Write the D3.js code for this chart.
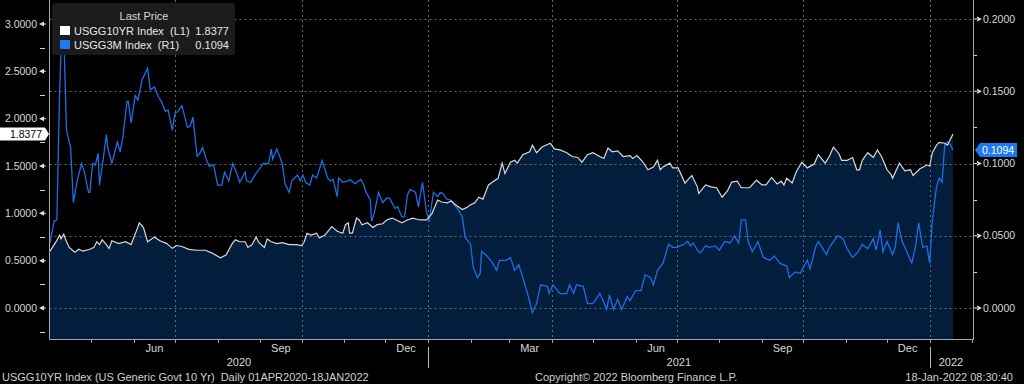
<!DOCTYPE html>
<html>
<head>
<meta charset="utf-8">
<script src="https://cdn.jsdelivr.net/npm/d3@7"></script>
<style>
  body { margin: 0; background: #000; }
  svg { display: block; font-family: "Liberation Sans", Arial, sans-serif; }
  svg text { white-space: pre; }
</style>
</head>
<body>
<script>
// USGG10YR Index, left axis (L1)
const tenYr = [
	["2020-04-01",0.60],["2020-04-05",0.69],["2020-04-08",0.77],["2020-04-09",0.73],["2020-04-11",0.78],
	["2020-04-13",0.70],["2020-04-15",0.64],["2020-04-19",0.59],["2020-04-22",0.62],["2020-04-25",0.60],
	["2020-04-30",0.62],["2020-05-03",0.64],["2020-05-05",0.70],["2020-05-07",0.67],["2020-05-09",0.72],
	["2020-05-12",0.67],["2020-05-14",0.63],["2020-05-16",0.71],["2020-05-21",0.68],["2020-05-26",0.70],
	["2020-05-30",0.67],["2020-06-03",0.82],["2020-06-05",0.90],["2020-06-08",0.85],["2020-06-11",0.70],
	["2020-06-16",0.75],["2020-06-20",0.71],["2020-06-25",0.68],["2020-06-29",0.63],["2020-07-02",0.66],
	["2020-07-06",0.65],["2020-07-11",0.62],["2020-07-17",0.61],["2020-07-23",0.61],["2020-07-28",0.58],
	["2020-08-03",0.53],["2020-08-07",0.56],["2020-08-12",0.69],["2020-08-14",0.72],["2020-08-17",0.70],
	["2020-08-21",0.70],["2020-08-23",0.64],["2020-08-26",0.67],["2020-08-29",0.75],["2020-08-31",0.69],
	["2020-09-04",0.64],["2020-09-06",0.73],["2020-09-09",0.70],["2020-09-13",0.68],["2020-09-17",0.69],
	["2020-09-22",0.67],["2020-09-27",0.67],["2020-10-01",0.66],["2020-10-03",0.70],["2020-10-05",0.79],
	["2020-10-08",0.77],["2020-10-12",0.79],["2020-10-14",0.74],["2020-10-18",0.77],["2020-10-23",0.86],
	["2020-10-27",0.81],["2020-10-31",0.79],["2020-11-02",0.88],["2020-11-04",0.90],["2020-11-05",0.79],
	["2020-11-07",0.79],["2020-11-10",0.95],["2020-11-12",0.93],["2020-11-14",0.88],["2020-11-18",0.90],
	["2020-11-22",0.85],["2020-11-25",0.88],["2020-11-29",0.89],["2020-12-02",0.93],["2020-12-06",0.95],
	["2020-12-09",0.93],["2020-12-13",0.90],["2020-12-17",0.93],["2020-12-21",0.95],["2020-12-26",0.93],
	["2020-12-31",0.93],["2021-01-04",1.00],["2021-01-08",1.14],["2021-01-11",1.12],["2021-01-15",1.11],
	["2021-01-18",1.13],["2021-01-21",1.09],["2021-01-26",1.04],["2021-01-29",1.06],["2021-02-01",1.09],
	["2021-02-04",1.11],["2021-02-07",1.17],["2021-02-10",1.15],["2021-02-14",1.30],["2021-02-17",1.33],
	["2021-02-21",1.37],["2021-02-24",1.53],["2021-02-26",1.42],["2021-03-02",1.54],["2021-03-05",1.56],
	["2021-03-07",1.53],["2021-03-11",1.62],["2021-03-16",1.65],["2021-03-18",1.72],["2021-03-21",1.64],
	["2021-03-25",1.70],["2021-03-31",1.74],["2021-04-03",1.68],["2021-04-07",1.67],["2021-04-12",1.64],
	["2021-04-16",1.60],["2021-04-20",1.59],["2021-04-23",1.54],["2021-04-27",1.62],["2021-05-01",1.64],
	["2021-05-06",1.60],["2021-05-09",1.58],["2021-05-12",1.69],["2021-05-15",1.65],["2021-05-19",1.66],
	["2021-05-23",1.60],["2021-05-28",1.61],["2021-05-30",1.58],["2021-06-02",1.61],["2021-06-06",1.55],
	["2021-06-10",1.46],["2021-06-14",1.49],["2021-06-17",1.56],["2021-06-19",1.46],["2021-06-21",1.49],
	["2021-06-26",1.53],["2021-06-28",1.48],["2021-07-02",1.48],["2021-07-07",1.32],["2021-07-10",1.37],
	["2021-07-12",1.40],["2021-07-16",1.28],["2021-07-17",1.21],["2021-07-22",1.30],["2021-07-26",1.28],
	["2021-07-30",1.27],["2021-08-03",1.17],["2021-08-07",1.24],["2021-08-10",1.33],["2021-08-14",1.34],
	["2021-08-17",1.27],["2021-08-23",1.27],["2021-08-28",1.35],["2021-09-01",1.30],["2021-09-04",1.30],
	["2021-09-08",1.38],["2021-09-12",1.31],["2021-09-15",1.34],["2021-09-17",1.30],["2021-09-19",1.37],
	["2021-09-23",1.32],["2021-09-26",1.44],["2021-09-30",1.54],["2021-10-04",1.48],["2021-10-09",1.52],
	["2021-10-12",1.62],["2021-10-17",1.53],["2021-10-20",1.60],["2021-10-23",1.70],["2021-10-27",1.63],
	["2021-10-29",1.56],["2021-11-02",1.56],["2021-11-06",1.59],["2021-11-09",1.46],["2021-11-11",1.46],
	["2021-11-13",1.56],["2021-11-17",1.64],["2021-11-21",1.59],["2021-11-24",1.67],["2021-11-27",1.60],
	["2021-12-01",1.46],["2021-12-04",1.41],["2021-12-05",1.37],["2021-12-10",1.53],["2021-12-14",1.45],
	["2021-12-18",1.46],["2021-12-20",1.40],["2021-12-25",1.47],["2021-12-30",1.51],["2022-01-01",1.50],
	["2022-01-03",1.64],["2022-01-06",1.72],["2022-01-08",1.75],["2022-01-12",1.74],["2022-01-14",1.72],
	["2022-01-16",1.78],["2022-01-18",1.8377]
];

// USGG3M Index, right axis (R1)
const threeMo = [
	["2020-04-01",0.045],["2020-04-04",0.060],["2020-04-06",0.061],["2020-04-08",0.150],["2020-04-10",0.205],
	["2020-04-11",0.190],["2020-04-13",0.123],["2020-04-16",0.111],["2020-04-18",0.073],["2020-04-21",0.089],
	["2020-04-24",0.100],["2020-04-26",0.094],["2020-04-29",0.080],["2020-04-30",0.080],["2020-05-02",0.100],
	["2020-05-04",0.099],["2020-05-06",0.107],["2020-05-07",0.085],["2020-05-10",0.105],["2020-05-12",0.120],
	["2020-05-13",0.111],["2020-05-16",0.100],["2020-05-20",0.115],["2020-05-22",0.108],["2020-05-24",0.118],
	["2020-05-27",0.143],["2020-05-28",0.143],["2020-05-30",0.128],["2020-06-02",0.147],["2020-06-04",0.144],
	["2020-06-07",0.158],["2020-06-11",0.166],["2020-06-13",0.151],["2020-06-16",0.153],["2020-06-19",0.146],
	["2020-06-21",0.143],["2020-06-24",0.136],["2020-06-26",0.137],["2020-06-29",0.123],["2020-07-01",0.135],
	["2020-07-03",0.136],["2020-07-06",0.140],["2020-07-10",0.125],["2020-07-12",0.126],["2020-07-14",0.132],
	["2020-07-17",0.105],["2020-07-19",0.107],["2020-07-21",0.111],["2020-07-24",0.102],["2020-07-26",0.098],
	["2020-07-29",0.099],["2020-08-01",0.085],["2020-08-04",0.085],["2020-08-06",0.094],["2020-08-09",0.088],
	["2020-08-12",0.100],["2020-08-15",0.093],["2020-08-17",0.087],["2020-08-21",0.094],["2020-08-22",0.088],
	["2020-08-25",0.087],["2020-08-28",0.092],["2020-09-01",0.097],["2020-09-03",0.100],["2020-09-07",0.100],
	["2020-09-09",0.110],["2020-09-10",0.103],["2020-09-13",0.110],["2020-09-17",0.100],["2020-09-19",0.086],
	["2020-09-22",0.080],["2020-09-24",0.088],["2020-09-28",0.092],["2020-09-30",0.088],["2020-10-02",0.092],
	["2020-10-04",0.087],["2020-10-07",0.085],["2020-10-09",0.092],["2020-10-12",0.090],["2020-10-14",0.096],
	["2020-10-16",0.102],["2020-10-20",0.090],["2020-10-22",0.088],["2020-10-24",0.089],["2020-10-27",0.077],
	["2020-10-28",0.090],["2020-10-31",0.087],["2020-11-04",0.088],["2020-11-05",0.089],["2020-11-09",0.086],
	["2020-11-13",0.089],["2020-11-15",0.086],["2020-11-17",0.080],["2020-11-20",0.075],["2020-11-21",0.060],
	["2020-11-23",0.066],["2020-11-26",0.080],["2020-11-29",0.073],["2020-12-02",0.076],["2020-12-04",0.076],
	["2020-12-08",0.069],["2020-12-10",0.070],["2020-12-13",0.063],["2020-12-15",0.063],["2020-12-17",0.078],
	["2020-12-19",0.082],["2020-12-23",0.080],["2020-12-25",0.070],["2020-12-28",0.087],["2020-12-31",0.066],
	["2021-01-02",0.061],["2021-01-05",0.080],["2021-01-08",0.077],["2021-01-10",0.080],["2021-01-12",0.079],
	["2021-01-15",0.075],["2021-01-17",0.075],["2021-01-19",0.073],["2021-01-23",0.068],["2021-01-26",0.063],
	["2021-01-28",0.049],["2021-02-01",0.044],["2021-02-03",0.028],["2021-02-06",0.021],["2021-02-08",0.024],
	["2021-02-09",0.039],["2021-02-13",0.036],["2021-02-17",0.031],["2021-02-20",0.026],["2021-02-22",0.033],
	["2021-02-27",0.033],["2021-03-02",0.035],["2021-03-05",0.026],["2021-03-08",0.030],["2021-03-11",0.021],
	["2021-03-15",0.008],["2021-03-18",-0.003],["2021-03-21",0.003],["2021-03-24",0.016],["2021-03-29",0.015],
	["2021-03-30",0.010],["2021-04-02",0.016],["2021-04-07",0.010],["2021-04-12",0.010],["2021-04-14",0.016],
	["2021-04-17",0.010],["2021-04-19",0.016],["2021-04-24",0.015],["2021-04-27",0.003],["2021-05-01",0.003],
	["2021-05-06",0.010],["2021-05-08",0.006],["2021-05-11",-0.001],["2021-05-13",0.009],["2021-05-16",-0.001],
	["2021-05-19",0.006],["2021-05-22",-0.001],["2021-05-26",0.008],["2021-05-28",0.005],["2021-06-01",0.012],
	["2021-06-05",0.012],["2021-06-08",0.023],["2021-06-12",0.021],["2021-06-14",0.016],["2021-06-17",0.026],
	["2021-06-21",0.031],["2021-06-25",0.044],["2021-06-28",0.042],["2021-07-01",0.042],["2021-07-06",0.044],
	["2021-07-09",0.046],["2021-07-11",0.043],["2021-07-13",0.045],["2021-07-16",0.040],["2021-07-18",0.038],
	["2021-07-22",0.043],["2021-07-25",0.042],["2021-07-29",0.043],["2021-08-01",0.040],["2021-08-05",0.046],
	["2021-08-09",0.045],["2021-08-12",0.050],["2021-08-15",0.045],["2021-08-17",0.061],["2021-08-20",0.061],
	["2021-08-22",0.046],["2021-08-25",0.039],["2021-08-29",0.046],["2021-09-02",0.035],["2021-09-07",0.033],
	["2021-09-10",0.036],["2021-09-14",0.031],["2021-09-19",0.029],["2021-09-21",0.021],["2021-09-25",0.025],
	["2021-09-29",0.024],["2021-10-01",0.028],["2021-10-04",0.033],["2021-10-06",0.027],["2021-10-10",0.042],
	["2021-10-12",0.046],["2021-10-18",0.037],["2021-10-20",0.042],["2021-10-26",0.050],["2021-10-30",0.048],
	["2021-11-02",0.041],["2021-11-06",0.035],["2021-11-10",0.039],["2021-11-13",0.044],["2021-11-17",0.041],
	["2021-11-21",0.048],["2021-11-23",0.040],["2021-11-26",0.054],["2021-11-28",0.039],["2021-12-01",0.046],
	["2021-12-05",0.037],["2021-12-07",0.042],["2021-12-09",0.059],["2021-12-12",0.046],["2021-12-14",0.042],
	["2021-12-19",0.031],["2021-12-22",0.044],["2021-12-24",0.059],["2021-12-27",0.042],["2021-12-30",0.043],
	["2022-01-01",0.031],["2022-01-03",0.061],["2022-01-06",0.084],["2022-01-08",0.090],["2022-01-10",0.087],
	["2022-01-12",0.113],["2022-01-14",0.115],["2022-01-16",0.113],["2022-01-18",0.1094]
];

const leftTicks = [0, 0.5, 1, 1.5, 2, 2.5, 3];
const rightTicks = [0, 0.05, 0.1, 0.15, 0.2];
const lastTenYr = 1.8377;
const lastThreeMo = 0.1094;
const legendRows = [
	{ name: "USGG10YR Index  (L1)", value: "1.8377", color: "#ffffff" },
	{ name: "USGG3M Index  (R1)", value: "0.1094", color: "#1c7bf2" }
];
const footerLeft = "USGG10YR Index (US Generic Govt 10 Yr)  Daily 01APR2020-18JAN2022";
const footerMid = "Copyright\u00a9 2022 Bloomberg Finance L.P.";
const footerRight = "18-Jan-2022 08:30:40";

const parse = d3.utcParse("%Y-%m-%d");
const ten = tenYr.map(d => ({ date: parse(d[0]), v: d[1] }));
const three = threeMo.map(d => ({ date: parse(d[0]), v: d[1] }));

const W = 1024, H = 384;
const pL = 49.5, pR = 973.5, pT = 0, pB = 339.5;
const startDate = parse("2020-04-01"), endDate = parse("2022-01-18"), axisEnd = parse("2022-02-01");

const x = d3.scaleUtc().domain([startDate, endDate]).range([50, 953]);
const yL = d3.scaleLinear().domain([0, 3]).range([308, 24]);
const yR = d3.scaleLinear().domain([0, 0.2]).range([308, 19]);

const svg = d3.select("body").append("svg")
	.attr("width", W).attr("height", H);
svg.append("rect").attr("width", W).attr("height", H).attr("fill", "#000");

// area under the 10 yr line
svg.append("path")
	.datum(ten)
	.attr("fill", "#031d3d")
	.attr("d", d3.area().x(d => x(d.date)).y0(pB).y1(d => yL(d.v)));

// gridlines
const grid = svg.append("g")
	.attr("stroke", "#6a6a6a")
	.attr("stroke-width", 1)
	.attr("stroke-dasharray", "2,3");
grid.selectAll("line.h")
	.data(rightTicks)
	.enter().append("line")
	.attr("x1", pL).attr("x2", pR)
	.attr("y1", d => Math.round(yR(d)) + 0.5)
	.attr("y2", d => Math.round(yR(d)) + 0.5);

const months = d3.utcMonth.range(d3.utcDay.offset(startDate, 1), d3.utcDay.offset(axisEnd, 1));
grid.selectAll("line.v")
	.data(months.filter(m => m.getUTCMonth() % 3 === 0 && m < endDate))
	.enter().append("line")
	.attr("x1", d => Math.round(x(d)) + 0.5).attr("x2", d => Math.round(x(d)) + 0.5)
	.attr("y1", pT).attr("y2", pB);

// lines
svg.append("path")
	.datum(three)
	.attr("fill", "none")
	.attr("stroke", "#1c6ee6")
	.attr("stroke-width", 1.3)
	.attr("d", d3.line().x(d => x(d.date)).y(d => yR(d.v)));

svg.append("path")
	.datum(ten)
	.attr("fill", "none")
	.attr("stroke", "#d8d8d8")
	.attr("stroke-width", 1.2)
	.attr("d", d3.line().x(d => x(d.date)).y(d => yL(d.v)));

// axis frame
const axisColor = "#a8a8a8";
svg.append("path")
	.attr("fill", "none").attr("stroke", axisColor)
	.attr("d", `M${pL},${pT}V${pB}H${pR}V${pT}`);

// left axis
const lt = svg.append("g");
lt.selectAll("path.maj")
	.data(leftTicks)
	.enter().append("path")
	.attr("fill", "#e0e0e0")
	.attr("d", d => { let y = yL(d); return `M39,${y}L44,${y - 2.5}V${y + 2.5}Z M44,${y - 0.5}h2v1h-2Z`; });
lt.selectAll("line.min")
	.data(d3.range(-0.25, 3.1, 0.5))
	.enter().append("line")
	.attr("stroke", "#d0d0d0")
	.attr("x1", 40).attr("x2", 45)
	.attr("y1", d => Math.round(yL(d)) + 0.5).attr("y2", d => Math.round(yL(d)) + 0.5);
lt.selectAll("text")
	.data(leftTicks)
	.enter().append("text")
	.attr("x", 37).attr("y", d => yL(d))
	.attr("dy", "0.35em")
	.attr("text-anchor", "end")
	.attr("fill", "#d8d8d8")
	.attr("font-size", 10.5)
	.text(d3.format(".4f"));

// right axis
const rt = svg.append("g");
rt.selectAll("path.maj")
	.data(rightTicks)
	.enter().append("path")
	.attr("fill", "#e0e0e0")
	.attr("d", d => { let y = yR(d); return `M974,${y - 0.5}h4v1h-4Z M982,${y}L977,${y - 2.5}V${y + 2.5}Z`; });
rt.selectAll("line.min")
	.data(d3.range(0.025, 0.2, 0.05))
	.enter().append("line")
	.attr("stroke", "#d0d0d0")
	.attr("x1", 974).attr("x2", 977)
	.attr("y1", d => Math.round(yR(d)) + 0.5).attr("y2", d => Math.round(yR(d)) + 0.5);
rt.selectAll("text")
	.data(rightTicks)
	.enter().append("text")
	.attr("x", 983).attr("y", d => yR(d))
	.attr("dy", "0.35em")
	.attr("fill", "#d8d8d8")
	.attr("font-size", 10.5)
	.text(d3.format(".4f"));

// bottom axis: month ticks
svg.append("g").selectAll("line")
	.data(months)
	.enter().append("line")
	.attr("stroke", axisColor)
	.attr("x1", d => Math.round(x(d)) + 0.5).attr("x2", d => Math.round(x(d)) + 0.5)
	.attr("y1", pB).attr("y2", pB + 3.5);

const fmtMonth = d3.utcFormat("%b");
svg.append("g").selectAll("text")
	.data(months.filter(m => m.getUTCMonth() % 3 === 2))
	.enter().append("text")
	.attr("x", d => x(d3.utcDay.offset(d, 15)))
	.attr("y", 352)
	.attr("text-anchor", "middle")
	.attr("fill", "#d8d8d8")
	.attr("font-size", 11)
	.text(fmtMonth);

const years = d3.utcYear.range(d3.utcYear.floor(startDate), axisEnd);
svg.append("g").selectAll("text")
	.data(years)
	.enter().append("text")
	.attr("x", d => {
		let a = d < startDate ? startDate : d;
		let b = d3.utcYear.offset(d, 1);
		if (b > axisEnd) b = axisEnd;
		return (x(a) + x(b)) / 2;
	})
	.attr("y", 366)
	.attr("text-anchor", "middle")
	.attr("fill", "#d8d8d8")
	.attr("font-size", 11)
	.text(d3.utcFormat("%Y"));
svg.append("g").selectAll("line")
	.data(years.filter(d => d > startDate))
	.enter().append("line")
	.attr("stroke", "#bbbbbb")
	.attr("x1", d => Math.round(x(d)) + 0.5).attr("x2", d => Math.round(x(d)) + 0.5)
	.attr("y1", 347).attr("y2", 368);

// last value flags
let fy = yL(lastTenYr);
svg.append("path")
	.attr("fill", "#ffffff")
	.attr("d", `M0,${fy - 6.5}H45L49,${fy}L45,${fy + 6.5}H0Z`);
svg.append("text")
	.attr("x", 42).attr("y", fy).attr("dy", "0.35em")
	.attr("text-anchor", "end")
	.attr("fill", "#000").attr("font-size", 10.5)
	.text(d3.format(".4f")(lastTenYr));

let ry = yR(lastThreeMo);
svg.append("path")
	.attr("fill", "#1c7bf2")
	.attr("d", `M975,${ry}L980,${ry - 7}H1017V${ry + 7}H980Z`);
svg.append("text")
	.attr("x", 982).attr("y", ry).attr("dy", "0.35em")
	.attr("fill", "#fff").attr("font-size", 10.5)
	.text(d3.format(".4f")(lastThreeMo));

// legend
const lg = svg.append("g");
lg.append("rect")
	.attr("x", 52).attr("y", 3).attr("width", 183).attr("height", 52).attr("rx", 3)
	.attr("fill", "#1b1b1b");
lg.append("text")
	.attr("x", 144).attr("y", 20)
	.attr("text-anchor", "middle")
	.attr("fill", "#d8d8d8").attr("font-size", 11)
	.text("Last Price");
const row = lg.selectAll("g.row")
	.data(legendRows)
	.enter().append("g")
	.attr("transform", (d, i) => `translate(0,${26 + i * 14})`);
row.append("rect")
	.attr("x", 60).attr("y", 0).attr("width", 10).attr("height", 9)
	.attr("fill", d => d.color);
row.append("text")
	.attr("x", 74).attr("y", 9)
	.attr("fill", "#e6e6e6").attr("font-size", 11)
	.text(d => d.name);
row.append("text")
	.attr("x", 229).attr("y", 9)
	.attr("text-anchor", "end")
	.attr("fill", "#e6e6e6").attr("font-size", 11)
	.text(d => d.value);

// footer
const foot = svg.append("g").attr("fill", "#d0d0d0").attr("font-size", 11);
foot.append("text").attr("x", 2).attr("y", 381).text(footerLeft);
foot.append("text").attr("x", 535).attr("y", 381).text(footerMid);
foot.append("text").attr("x", 1013).attr("y", 381).attr("text-anchor", "end").text(footerRight);
</script>
</body>
</html>
